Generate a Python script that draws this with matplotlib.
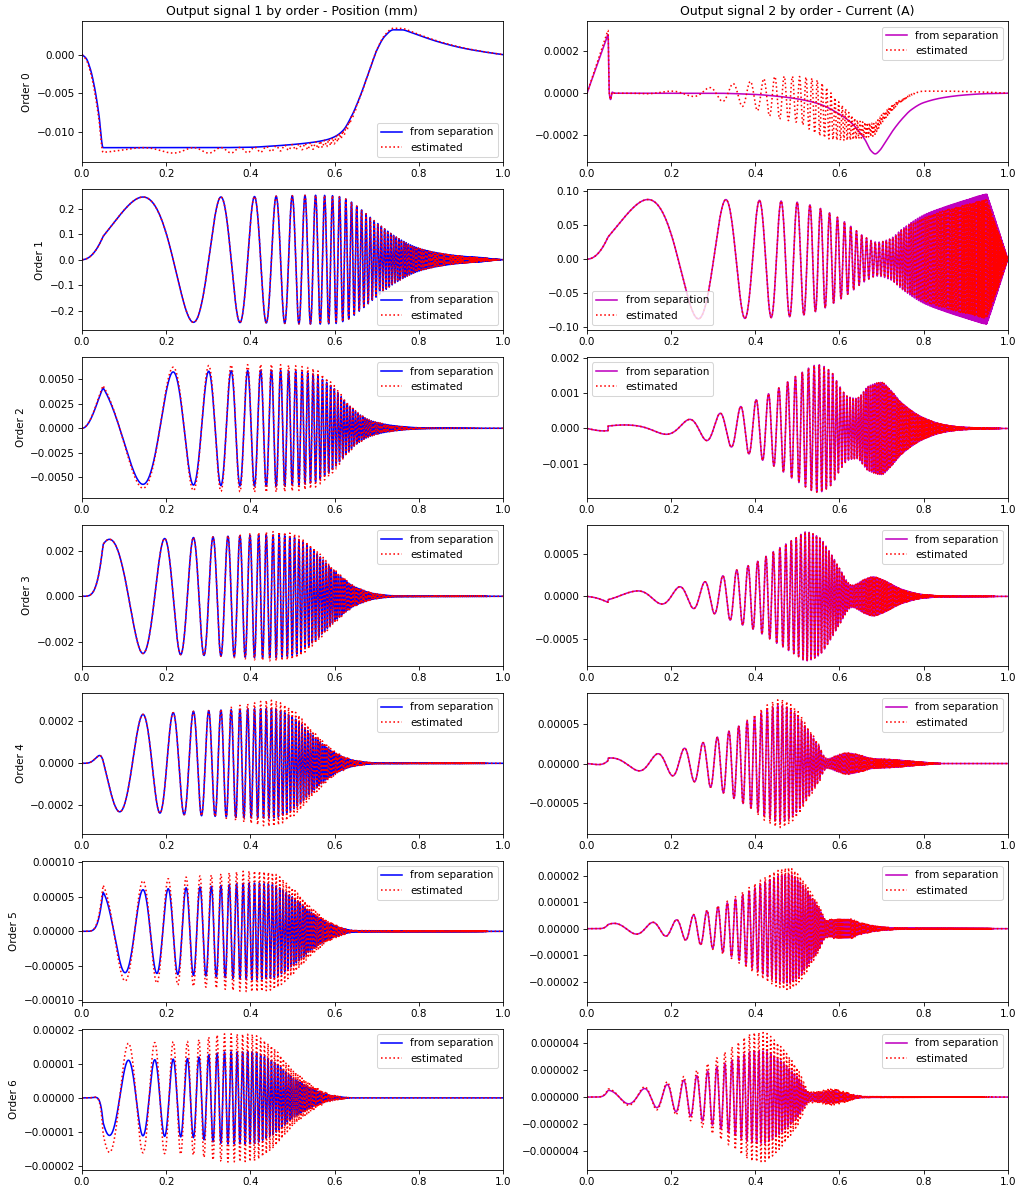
import numpy as np
import matplotlib
matplotlib.use("Agg")
import matplotlib.pyplot as plt

t = np.linspace(0, 1, 20001)
sweep_A = 0.946      # phase scale (rad)
sweep_L = 0.148      # sweep time constant
fade_in_end = 0.05
fade_out_start = 0.95

phase = sweep_A * (np.exp(t / sweep_L) - 1)
ramp_in = np.clip(t / fade_in_end, 0, 1)
ramp_out = np.clip((1 - t) / (1 - fade_out_start), 0, 1)

orders = [0, 1, 2, 3, 4, 5, 6]

# ---- Output 1: position (mm) ----
pos0_t = [0, 0.01, 0.02, 0.03, 0.04, 0.05, 0.3, 0.4, 0.45, 0.5, 0.55, 0.58, 0.6, 0.62, 0.64,
          0.66, 0.68, 0.70, 0.72, 0.74, 0.76, 0.78, 0.8, 0.85, 0.9, 0.95, 1.0]
pos0_sep = [0, -0.0005, -0.0019, -0.0043, -0.0077, -0.0120, -0.0120, -0.01195, -0.0118, -0.0116,
            -0.0113, -0.0110, -0.0106, -0.0098, -0.0080, -0.0055, -0.0025, 0.0005, 0.0024, 0.0032,
            0.0032, 0.0029, 0.0025, 0.0016, 0.0009, 0.0004, 0.0]
pos0_ripple_t = [0, 0.05, 0.5, 0.55, 0.6, 0.63, 0.66, 0.7, 1.0]
pos0_ripple = [0, 0.0007, 0.0007, 0.0009, 0.0009, 0.0007, 0.0002, 0, 0]
pos0_bump_t = [0, 0.68, 0.74, 0.8, 1.0]
pos0_bump = [0, 0, 0.0002, 0.0001, 0]

pos_theta = [0, 0, np.pi / 2, 0, np.pi / 2, 0, np.pi / 2]

pos1_t = [0, 0.3, 0.45, 0.55, 0.6, 0.63, 0.66, 0.7, 0.75, 0.8, 0.85, 0.9, 0.95, 1.0]
pos1_env = [0.245, 0.245, 0.248, 0.252, 0.25, 0.235, 0.2, 0.145, 0.085, 0.045, 0.025, 0.014, 0.008, 0.005]
pos1_rt = [0, 1]
pos1_r = [1.0, 1.0]

pos2_t = [0, 0.15, 0.3, 0.45, 0.5, 0.55, 0.58, 0.6, 0.62, 0.65, 0.68, 0.7, 0.75, 0.8, 0.85, 1.0]
pos2_env = [0.0057, 0.0057, 0.0058, 0.0059, 0.0058, 0.0055, 0.0047, 0.004, 0.003, 0.0017, 0.0009,
            0.0006, 0.00022, 0.00006, 0.00002, 0]
pos2_rt = [0, 0.2, 0.3, 0.55, 0.65, 1]
pos2_r = [1.04, 1.08, 1.1, 1.1, 1.05, 1.0]

pos3_t = [0, 0.1, 0.3, 0.45, 0.5, 0.55, 0.6, 0.65, 0.7, 0.75, 1.0]
pos3_env = [0.0025, 0.0025, 0.0026, 0.0027, 0.0026, 0.002, 0.0011, 0.0004, 0.0001, 0.00002, 0]
pos3_rt = [0, 0.3, 0.45, 0.6, 1]
pos3_r = [1.0, 1.0, 1.05, 1.07, 1.07]

pos4_t = [0, 0.1, 0.3, 0.45, 0.5, 0.55, 0.6, 0.65, 0.7, 1.0]
pos4_env = [0.00023, 0.00023, 0.00025, 0.00026, 0.00022, 0.00013, 0.00005, 0.000012, 0.000002, 0]
pos4_rt = [0, 0.3, 0.4, 0.45, 1]
pos4_r = [1.0, 1.0, 1.1, 1.15, 1.15]

pos5_t = [0, 0.1, 0.3, 0.4, 0.45, 0.5, 0.55, 0.6, 0.65, 1.0]
pos5_env = [0.00006, 0.00006, 0.000065, 0.00007, 0.000068, 0.00005, 0.000025, 0.000008, 0.000001, 0]
pos5_rt = [0, 0.1, 0.3, 1]
pos5_r = [1.15, 1.2, 1.25, 1.25]

pos6_t = [0, 0.07, 0.25, 0.35, 0.4, 0.45, 0.5, 0.55, 0.6, 0.65, 1.0]
pos6_env = [1.1e-5, 1.1e-5, 1.15e-5, 1.35e-5, 1.35e-5, 1.1e-5, 6e-6, 2.5e-6, 5e-7, 0, 0]
pos6_rt = [0, 0.2, 0.4, 1]
pos6_r = [1.45, 1.45, 1.38, 1.38]

# ---- Output 2: current (A) ----
cur0_t = [0, 0.025, 0.045, 0.05, 0.053, 0.056, 0.06, 0.065, 0.3, 0.4, 0.45, 0.5, 0.55, 0.6, 0.63,
          0.66, 0.675, 0.685, 0.695, 0.71, 0.73, 0.75, 0.77, 0.8, 0.85, 0.9, 0.95, 1.0]
cur0_sep = [0, 0.00014, 0.000252, 0.00028, 0.0, -0.00003, 0.000005, 0, 0, -0.000006, -0.000014,
            -0.000027, -0.00005, -0.0001, -0.000145, -0.00022, -0.000275, -0.00029, -0.000275,
            -0.00023, -0.00017, -0.00012, -0.00008, -0.000045, -0.00002, -0.000008, -0.000002, 0]
cur0_est_t = [0, 0.025, 0.045, 0.05, 0.053, 0.056, 0.06, 0.065, 0.3, 0.4, 0.45, 0.5, 0.55, 0.6,
              0.65, 0.68, 0.7, 0.72, 0.75, 0.78, 0.8, 0.85, 0.9, 0.95, 1.0]
cur0_est_base = [0, 0.00015, 0.00027, 0.0003, 0.0, -0.00003, 0.000005, 0, 0, -0.00001, -0.00002,
                 -0.00003, -0.00007, -0.000135, -0.000175, -0.000175, -0.000125, -0.00008,
                 -0.00003, 0, 0.00001, 0.00001, 0.000008, 0.000005, 0]
cur0_osc_t = [0, 0.1, 0.15, 0.2, 0.25, 0.3, 0.35, 0.4, 0.45, 0.5, 0.55, 0.6, 0.65, 0.68, 0.7, 0.75, 0.8, 1.0]
cur0_osc = [0, 0, 0.000005, 0.00001, 0.000015, 0.00003, 0.00005, 0.00007, 0.0001, 0.00011, 0.00013,
            0.00009, 0.00004, 0.00003, 0.00002, 0.000005, 0, 0]

cur_theta = [0, 0, 0, -1.85, -0.15, -1.0, -0.7]
cur_kick = [0, 0, -0.00013, -0.00003, -3e-6, 0, 0]   # jump at end of fade-in

cur1_t = [0, 0.3, 0.45, 0.5, 0.55, 0.6, 0.63, 0.66, 0.69, 0.72, 0.75, 0.8, 0.85, 0.9, 0.95, 1.0]
cur1_env = [0.088, 0.088, 0.086, 0.084, 0.076, 0.06, 0.047, 0.033, 0.025, 0.03, 0.045, 0.065,
            0.077, 0.087, 0.096, 0.1]
cur1_rt = [0, 0.6, 0.7, 0.8, 0.9, 1]
cur1_r = [1.0, 1.0, 0.98, 0.95, 0.92, 0.9]

cur2_t = [0, 0.1, 0.2, 0.25, 0.3, 0.35, 0.4, 0.45, 0.5, 0.55, 0.58, 0.6, 0.62, 0.64, 0.67, 0.7,
          0.72, 0.75, 0.8, 0.85, 0.9, 1.0]
cur2_env = [0.0001, 0.0001, 0.00018, 0.00027, 0.00038, 0.00055, 0.0008, 0.0011, 0.0015, 0.0018,
            0.0016, 0.0012, 0.0009, 0.00085, 0.0012, 0.0013, 0.0011, 0.0007, 0.0003, 0.0001, 0.00003, 0]
cur2_rt = [0, 1]
cur2_r = [1.0, 1.0]

cur3_t = [0, 0.1, 0.15, 0.2, 0.25, 0.3, 0.35, 0.4, 0.45, 0.5, 0.52, 0.55, 0.58, 0.6, 0.63, 0.66,
          0.68, 0.7, 0.75, 0.8, 0.85, 1.0]
cur3_env = [0.00006, 0.00006, 0.00008, 0.0001, 0.00014, 0.0002, 0.0003, 0.0004, 0.00055, 0.0007,
            0.00076, 0.0007, 0.0005, 0.00033, 0.00013, 0.0002, 0.00023, 0.0002, 0.00008, 0.00002,
            0.000005, 0]
cur3_rt = [0, 1]
cur3_r = [1.0, 1.0]

cur4_t = [0, 0.1, 0.15, 0.2, 0.25, 0.3, 0.35, 0.4, 0.43, 0.46, 0.5, 0.52, 0.55, 0.57, 0.6, 0.62,
          0.65, 0.68, 0.72, 0.8, 0.85, 1.0]
cur4_env = [6e-6, 8e-6, 1.1e-5, 1.5e-5, 2.2e-5, 3.1e-5, 4.4e-5, 5.9e-5, 6.8e-5, 7.3e-5, 6e-5, 4.5e-5,
            2.3e-5, 6e-6, 1.1e-5, 1.3e-5, 1e-5, 6e-6, 5e-6, 1.5e-6, 0, 0]
cur4_rt = [0, 0.35, 0.45, 0.5, 0.6, 1]
cur4_r = [1.0, 1.0, 1.1, 1.1, 1.05, 1.0]

cur5_t = [0, 0.1, 0.2, 0.25, 0.3, 0.35, 0.4, 0.45, 0.48, 0.5, 0.55, 0.57, 0.6, 0.62, 0.65, 0.7, 0.75, 1.0]
cur5_env = [2e-6, 2e-6, 3e-6, 5e-6, 7.5e-6, 1.1e-5, 1.55e-5, 1.95e-5, 2.05e-5, 1.85e-5, 8e-6, 3e-6,
            3.5e-6, 3.5e-6, 2e-6, 6e-7, 2e-7, 0]
cur5_rt = [0, 0.3, 0.4, 0.5, 1]
cur5_r = [1.0, 1.05, 1.1, 1.12, 1.1]

cur6_t = [0, 0.06, 0.1, 0.15, 0.2, 0.25, 0.3, 0.35, 0.4, 0.42, 0.45, 0.5, 0.53, 0.56, 0.58, 0.6,
          0.63, 0.66, 1.0]
cur6_env = [5e-7, 5e-7, 5e-7, 7e-7, 1e-6, 1.45e-6, 2.1e-6, 2.8e-6, 3.4e-6, 3.4e-6, 2.9e-6, 1.5e-6,
            3e-7, 3.5e-7, 4.2e-7, 3.5e-7, 1.5e-7, 3e-8, 0]
cur6_rt = [0, 0.2, 0.3, 0.4, 1]
cur6_r = [1.2, 1.2, 1.3, 1.4, 1.4]

pos_ylim = [(-0.01386, 0.00428), (-0.275, 0.275), (-0.00708, 0.00722), (-0.00305, 0.00312),
            (-0.000334, 0.000333), (-0.000102, 0.000102), (-2.1e-5, 2.02e-5)]
cur_ylim = [(-0.000329, 0.000343), (-0.1045, 0.103), (-0.00196, 0.00201), (-0.000818, 0.000839),
            (-8.8e-5, 8.83e-5), (-2.75e-5, 2.55e-5), (-5.35e-6, 5.03e-6)]
pos_loc = ["lower right", "lower right", "upper right", "upper right", "upper right",
           "upper right", "upper right"]
cur_loc = ["upper right", "lower left", "upper left", "upper right", "upper right",
           "upper right", "upper right"]


def knots(tk, vk):
    # monotone cubic through the read-off points
    tk = np.asarray(tk, float)
    vk = np.asarray(vk, float)
    h = np.diff(tk)
    d = np.diff(vk) / h
    m = np.zeros_like(vk)
    m[0], m[-1] = d[0], d[-1]
    same = d[:-1] * d[1:] > 0
    inner = np.zeros(len(d) - 1)
    inner[same] = 2 * d[:-1][same] * d[1:][same] / (d[:-1][same] + d[1:][same])
    m[1:-1] = inner
    i = np.clip(np.searchsorted(tk, t, side="right") - 1, 0, len(tk) - 2)
    s = (t - tk[i]) / h[i]
    return ((2 * s**3 - 3 * s**2 + 1) * vk[i] + (s**3 - 2 * s**2 + s) * h[i] * m[i]
            + (-2 * s**3 + 3 * s**2) * vk[i + 1] + (s**3 - s**2) * h[i] * m[i + 1])


def harmonic(k, theta):
    return np.sin(k * phase + theta) * ramp_in ** k * ramp_out


pos_env = [None, (pos1_t, pos1_env, pos1_rt, pos1_r), (pos2_t, pos2_env, pos2_rt, pos2_r),
           (pos3_t, pos3_env, pos3_rt, pos3_r), (pos4_t, pos4_env, pos4_rt, pos4_r),
           (pos5_t, pos5_env, pos5_rt, pos5_r), (pos6_t, pos6_env, pos6_rt, pos6_r)]
cur_env = [None, (cur1_t, cur1_env, cur1_rt, cur1_r), (cur2_t, cur2_env, cur2_rt, cur2_r),
           (cur3_t, cur3_env, cur3_rt, cur3_r), (cur4_t, cur4_env, cur4_rt, cur4_r),
           (cur5_t, cur5_env, cur5_rt, cur5_r), (cur6_t, cur6_env, cur6_rt, cur6_r)]

fig, axes = plt.subplots(7, 2, figsize=(1019 / 75, 1191 / 75), dpi=75)
fig.subplots_adjust(left=0.0805, right=0.989, top=0.982, bottom=0.018, hspace=0.194, wspace=0.2)

for k in orders:
    # position column
    if k == 0:
        sep = knots(pos0_t, pos0_sep)
        est = sep - knots(pos0_ripple_t, pos0_ripple) * (1 + np.cos(2 * phase)) / 2 \
            + knots(pos0_bump_t, pos0_bump)
    else:
        et, ev, rt, rv = pos_env[k]
        sep = knots(et, ev) * harmonic(k, pos_theta[k])
        est = sep * knots(rt, rv)
    ax = axes[k, 0]
    ax.plot(t, sep, "b-", label="from separation")
    ax.plot(t, est, "r:", label="estimated")
    ax.set_xlim(0, 1)
    ax.set_ylim(*pos_ylim[k])
    ax.set_ylabel("Order {}".format(k))
    ax.ticklabel_format(axis="y", style="plain", useOffset=False)
    ax.legend(loc=pos_loc[k])

    # current column
    if k == 0:
        sep = knots(cur0_t, cur0_sep)
        est = knots(cur0_est_t, cur0_est_base) + knots(cur0_osc_t, cur0_osc) * np.cos(2 * phase + 1.0)
    else:
        et, ev, rt, rv = cur_env[k]
        kick = np.where(t <= fade_in_end, cur_kick[k] * t / fade_in_end, 0)
        sep = knots(et, ev) * harmonic(k, cur_theta[k]) + kick
        est = knots(et, ev) * knots(rt, rv) * harmonic(k, cur_theta[k]) + kick
    ax = axes[k, 1]
    ax.plot(t, sep, "m-", label="from separation")
    ax.plot(t, est, "r:", label="estimated")
    ax.set_xlim(0, 1)
    ax.set_ylim(*cur_ylim[k])
    ax.ticklabel_format(axis="y", style="plain", useOffset=False)
    ax.legend(loc=cur_loc[k])

axes[0, 0].set_title("Output signal 1 by order - Position (mm)")
axes[0, 1].set_title("Output signal 2 by order - Current (A)")

plt.savefig("out.png")
